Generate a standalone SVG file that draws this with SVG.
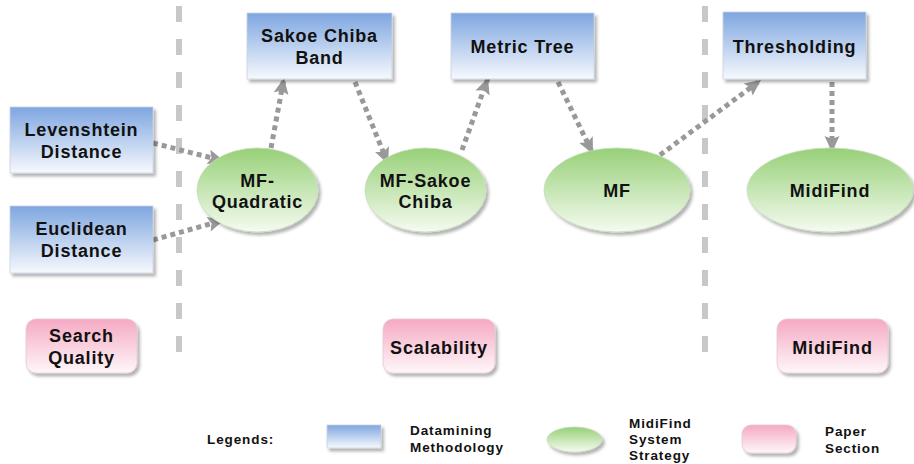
<svg xmlns="http://www.w3.org/2000/svg" width="914" height="464" viewBox="0 0 914 464">
<defs>
<linearGradient id="gBlue" x1="0" y1="0" x2="0" y2="1"><stop offset="0" stop-color="#7ea6e0"/><stop offset="1" stop-color="#f7f9fd"/></linearGradient>
<linearGradient id="gGreen" x1="0" y1="0" x2="0" y2="1"><stop offset="0" stop-color="#97d077"/><stop offset="1" stop-color="#f5fbf1"/></linearGradient>
<linearGradient id="gPink" x1="0" y1="0" x2="0" y2="1"><stop offset="0" stop-color="#f5a9c2"/><stop offset="1" stop-color="#fef7fa"/></linearGradient>
<filter id="sh" x="-20%" y="-20%" width="140%" height="150%"><feDropShadow dx="2.5" dy="3" stdDeviation="1.8" flood-color="#000" flood-opacity="0.3"/></filter>
<marker id="ah" markerUnits="userSpaceOnUse" markerWidth="18" markerHeight="18" viewBox="0 0 18 18" refX="17" refY="9" orient="auto"><path d="M1,1.5 L17,9 L1,16.5 L4,9 Z" fill="#999"/></marker>
</defs>
<style>
.box{fill:url(#gBlue);stroke:#c9d3e0;stroke-width:0.8;filter:url(#sh)}
.ell{fill:url(#gGreen);stroke:#c7dcbc;stroke-width:0.8;filter:url(#sh)}
.sec{fill:url(#gPink);stroke:#e6c7d2;stroke-width:0.8;filter:url(#sh)}
text{font-family:"Liberation Sans",Arial,sans-serif;font-weight:bold;fill:#111}
.t{font-size:18px;letter-spacing:0.8px;text-anchor:middle}
.l{font-size:13.5px;letter-spacing:0.9px}
.con{fill:none;stroke:#999;stroke-width:5;stroke-dasharray:5 4;marker-end:url(#ah)}
.div{stroke:#c8c8c8;stroke-width:6;stroke-dasharray:16 17}
</style>
<g id="dividers">
<line class="div" x1="179" y1="6" x2="179" y2="354"/>
<line class="div" x1="705" y1="6" x2="705" y2="354"/>
</g>
<g id="connectors">
<path class="con" d="M153,143 L224,161"/>
<path class="con" d="M153,240 L224,220"/>
<path class="con" d="M271,148 L284,78"/>
<path class="con" d="M355,82 L388,164"/>
<path class="con" d="M462,150 L488,78"/>
<path class="con" d="M558,82 L593,154"/>
<path class="con" d="M660,155 L761,80"/>
<path class="con" d="M832,82 L832,152"/>
</g>
<g id="levenshtein"><rect class="box" x="10" y="107" width="143" height="66"/><text class="t" x="81.5" y="136">Levenshtein</text><text class="t" x="81.5" y="158">Distance</text></g>
<g id="euclidean"><rect class="box" x="10" y="206" width="143" height="67"/><text class="t" x="81.5" y="235">Euclidean</text><text class="t" x="81.5" y="257">Distance</text></g>
<g id="sakoe-band"><rect class="box" x="247" y="13" width="145" height="66"/><text class="t" x="319.5" y="42">Sakoe Chiba</text><text class="t" x="319.5" y="64">Band</text></g>
<g id="metric-tree"><rect class="box" x="451" y="13" width="143" height="66"/><text class="t" x="522.5" y="53">Metric Tree</text></g>
<g id="thresholding"><rect class="box" x="723" y="12" width="143" height="67"/><text class="t" x="794.5" y="53">Thresholding</text></g>
<g id="mf-quadratic"><ellipse class="ell" cx="257.5" cy="190" rx="60.5" ry="42"/><text class="t" x="257.5" y="187">MF-</text><text class="t" x="257.5" y="208">Quadratic</text></g>
<g id="mf-sakoe"><ellipse class="ell" cx="425.5" cy="190" rx="60.5" ry="42"/><text class="t" x="425.5" y="187">MF-Sakoe</text><text class="t" x="425.5" y="208">Chiba</text></g>
<g id="mf"><ellipse class="ell" cx="617" cy="190" rx="73" ry="42"/><text class="t" x="617" y="197">MF</text></g>
<g id="midifind"><ellipse class="ell" cx="830" cy="190" rx="83" ry="42"/><text class="t" x="830" y="197">MidiFind</text></g>
<g id="search-quality"><rect class="sec" x="26" y="319" width="111" height="54" rx="10"/><text class="t" x="81.5" y="342">Search</text><text class="t" x="81.5" y="364">Quality</text></g>
<g id="scalability"><rect class="sec" x="383" y="319" width="112" height="54" rx="10"/><text class="t" x="439" y="354">Scalability</text></g>
<g id="midifind-sec"><rect class="sec" x="777" y="319" width="111" height="54" rx="10"/><text class="t" x="832.5" y="354">MidiFind</text></g>
<g id="legend">
<text class="l" x="207" y="444">Legends:</text>
<rect class="box" x="327" y="425" width="54" height="23"/>
<text class="l" x="410" y="435">Datamining</text><text class="l" x="410" y="452">Methodology</text>
<ellipse class="ell" cx="574.5" cy="439.5" rx="27.5" ry="12.5"/>
<text class="l" x="629" y="428">MidiFind</text><text class="l" x="629" y="444">System</text><text class="l" x="629" y="460">Strategy</text>
<rect class="sec" x="742" y="425" width="54" height="28" rx="9"/>
<text class="l" x="825" y="436">Paper</text><text class="l" x="825" y="453">Section</text>
</g>
</svg>
